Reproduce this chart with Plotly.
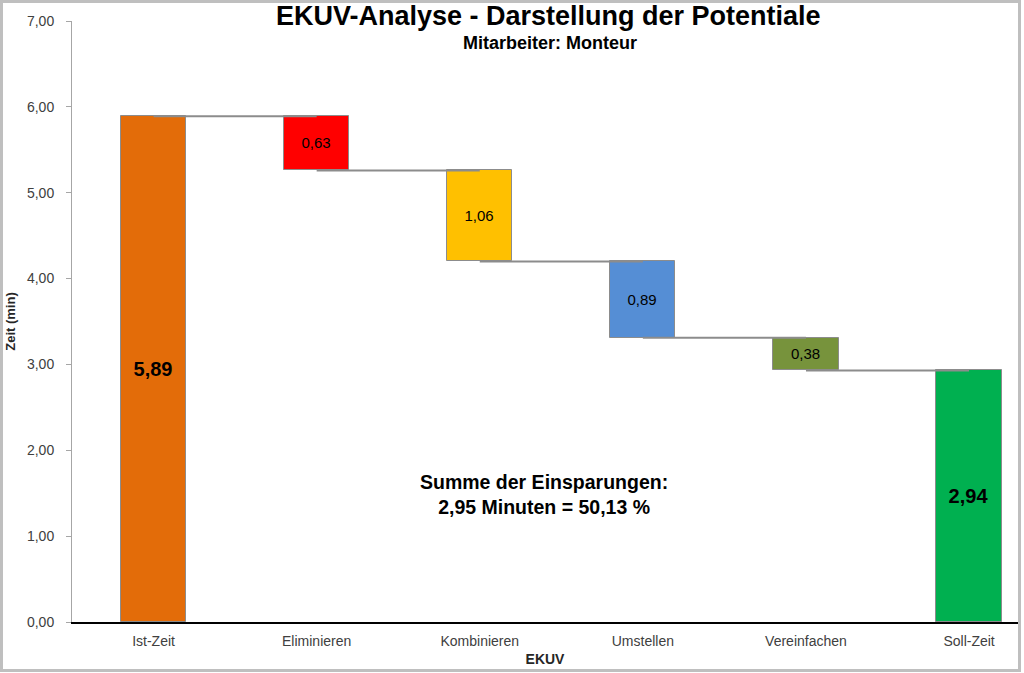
import plotly.graph_objects as go

categories = ["Ist-Zeit", "Eliminieren", "Kombinieren", "Umstellen", "Vereinfachen", "Soll-Zeit"]
ist_zeit = 5.89
savings = [0.63, 1.06, 0.89, 0.38]
soll_zeit = 2.94
colors = ["#E36C09", "#FF0000", "#FFC000", "#558ED5", "#77933C", "#00B050"]
y_ticks = [0, 1, 2, 3, 4, 5, 6, 7]

# build waterfall geometry from values
values = [ist_zeit] + savings + [soll_zeit]
bases = [0]
level = ist_zeit
levels = [ist_zeit]
for s in savings:
    level = level - s
    bases.append(level)
    levels.append(level)
bases.append(0)

def fmt(v):
    return f"{v:.2f}".replace(".", ",")

texts = []
sizes = []
for i, v in enumerate(values):
    if i == 0 or i == len(values) - 1:
        texts.append("<b>" + fmt(v) + "</b>")
        sizes.append(20)
    else:
        texts.append(fmt(v))
        sizes.append(15)

xs = list(range(len(categories)))

FONT = "Liberation Sans, Arial, sans-serif"

fig = go.Figure()

fig.add_trace(go.Bar(
    x=xs, y=values, base=bases, width=0.4,
    marker=dict(color=colors, line=dict(color="#8C8C8C", width=1)),
    text=texts, textposition="inside", insidetextanchor="middle",
    textfont=dict(family=FONT, size=sizes, color="black"),
    constraintext="none", showlegend=False, hoverinfo="skip",
))

# connector lines from bar center to next bar center
for i, lv in enumerate(levels):
    fig.add_trace(go.Scatter(
        x=[xs[i], xs[i + 1]], y=[lv, lv], mode="lines",
        line=dict(color="#8C8C8C", width=2), showlegend=False, hoverinfo="skip",
    ))

fig.update_layout(
    width=1024, height=673,
    margin=dict(l=72, r=6, t=21, b=51),
    paper_bgcolor="white", plot_bgcolor="white",
    separators=",.",
    font=dict(family=FONT, color="#404040"),
    bargap=0,
    xaxis=dict(
        range=[-0.5, 5.30], tickvals=xs, ticktext=categories,
        showgrid=False, zeroline=False, showline=True, linecolor="black", linewidth=2,
        ticks="", ticklabelstandoff=5, tickfont=dict(size=14, color="#404040"),
        title=dict(text="<b>EKUV</b>", font=dict(size=14, color="#262626"), standoff=6),
    ),
    yaxis=dict(
        range=[0, 7], tickvals=y_ticks, tickformat=".2f",
        showgrid=False, zeroline=False, showline=True, linecolor="#A6A6A6", linewidth=1,
        ticks="outside", ticklen=5, tickcolor="#A6A6A6", ticklabelstandoff=9,
        tickfont=dict(size=14, color="#404040"),
        title=dict(text="<b>Zeit (min)</b>", font=dict(size=13, color="#262626"), standoff=8),
    ),
    annotations=[
        dict(text="<b>EKUV-Analyse - Darstellung der Potentiale</b>", xref="paper", yref="paper",
             x=(548 - 72) / 946, y=(622 - 16) / 601, showarrow=False,
             font=dict(family=FONT, size=27, color="black"), xanchor="center", yanchor="middle"),
        dict(text="<b>Mitarbeiter: Monteur</b>", xref="paper", yref="paper",
             x=(550 - 72) / 946, y=(622 - 43) / 601, showarrow=False,
             font=dict(family=FONT, size=18, color="black"), xanchor="center", yanchor="middle"),
        dict(text="<b>Summe der Einsparungen:<br>2,95 Minuten = 50,13 %</b>", xref="paper", yref="paper",
             x=(544 - 72) / 946, y=(622 - 494) / 601, showarrow=False,
             font=dict(family=FONT, size=19.5, color="black"), xanchor="center", yanchor="middle",
             align="center"),
    ],
    shapes=[
        dict(type="rect", xref="paper", yref="paper",
             x0=(1.5 - 72) / 946, x1=(1019.5 - 72) / 946,
             y0=(622 - 670.5) / 601, y1=(622 - 1.5) / 601,
             line=dict(color="#BFBFBF", width=3), fillcolor="rgba(0,0,0,0)", layer="below"),
    ],
)

fig.write_html("out.html")
